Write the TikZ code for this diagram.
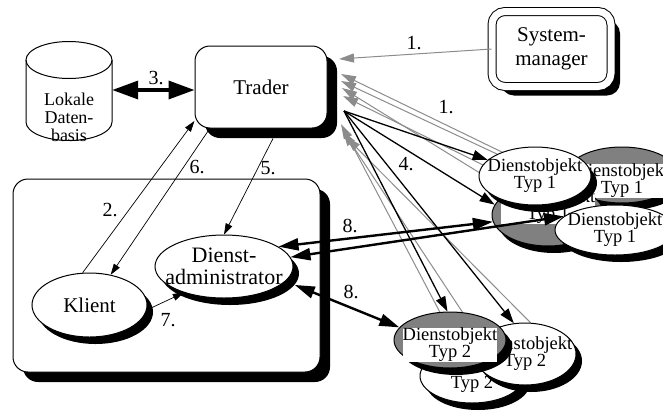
\documentclass[tikz,border=0pt]{standalone}
\usepackage{fontspec}
\setmainfont{Liberation Serif}
\usetikzlibrary{shapes.geometric,shadows,arrows.meta}

\pgfdeclarelayer{background}
\pgfsetlayers{background,main}

\tikzset{
    bigtext/.style={font=\fontsize{21}{24}\selectfont, align=center, inner sep=0pt},
    smalltext/.style={font=\fontsize{18.5}{17}\selectfont, align=center, inner sep=0pt},
    objlabel/.style={smalltext, fill=white},
    numtext/.style={font=\fontsize{20}{22}\selectfont, inner sep=0pt},
    boxshadow/.style={drop shadow={shadow xshift=10pt, shadow yshift=-10pt, fill=black, opacity=1}},
    ellshadow/.style={drop shadow={shadow xshift=6pt, shadow yshift=-7pt, fill=black, opacity=1}},
    obj/.style={ellipse, draw, line width=1pt, fill=white, inner sep=0pt, ellshadow},
    objgray/.style={obj, fill=black!50},
    thinarrow/.style={-{Triangle[length=11pt, width=7pt]}, line width=0.7pt},
    callarrow/.style={-{Triangle[length=15pt, width=10pt]}, line width=1.3pt},
    exportarrow/.style={-{Triangle[length=15pt, width=9pt]}, line width=1pt, color=black!45},
    bindarrow/.style={{Triangle[length=20pt, width=12pt]}-{Triangle[length=20pt, width=12pt]}, line width=2.4pt},
    dbarrow/.style={{Triangle[length=26pt, width=18pt]}-{Triangle[length=26pt, width=18pt]}, line width=3.5pt}
}

\begin{document}
\begin{tikzpicture}[x=1pt, y=-1pt]

    % Fix the page to the size of the drawing
    \useasboundingbox (0,0) rectangle (663,410);

    % Host box holding client and service administrator
    \node[draw, line width=1pt, fill=white, rounded corners=15pt, minimum width=307pt, minimum height=193pt, boxshadow] (host) at (166.5,275.5) {};

    % Trader and system manager
    \node[draw, line width=1pt, fill=white, rounded corners=15pt, minimum width=132pt, minimum height=82pt, boxshadow, bigtext] (trader) at (261,87) {Trader};
    \node[draw, line width=1pt, double, double distance=7pt, fill=white, rounded corners=13pt, minimum width=119pt, minimum height=75pt,
          drop shadow={shadow xshift=9pt, shadow yshift=-9pt, fill=black, opacity=1}, bigtext] (sysman) at (551.5,49) {System-\\manager};

    % Local database: a cylinder drawn round an empty node
    \node[minimum width=86pt, minimum height=99pt, inner sep=0pt] (db) at (69,90) {};
    \draw[line width=1pt, fill=white] (26,60) -- (26,122) arc[start angle=180, end angle=0, x radius=43, y radius=18.5] -- (112,60);
    \draw[line width=1pt] (69,60) ellipse[x radius=43, y radius=18.5];
    \node[smalltext, font=\fontsize{18}{18}\selectfont] (dbtext) at (69,117) {Lokale\\Daten-\\basis};

    % Client and service administrator
    \node[obj, minimum width=115pt, minimum height=64pt, label={[bigtext]center:Klient}] (klient) at (89.5,305) {};
    \node[obj, minimum width=138pt, minimum height=63pt, label={[bigtext, font=\fontsize{22}{22}\selectfont]center:{Dienst-\\administrator}}] (admin) at (224,266.5) {};

    % Service objects of type 1, back to front
    \node[objgray, minimum width=112pt, minimum height=56pt, label={[objlabel, yshift=-6pt]center:{Dienstobjekt\\Typ 1}}] (obja) at (622,175) {};
    \node[objgray, minimum width=112pt, minimum height=62pt, label={[objlabel, yshift=8pt]center:{Dienstobjekt\\Typ 1}}] (objb) at (548,215) {};
    \node[obj, minimum width=112pt, minimum height=58pt, label={[smalltext]center:{Dienstobjekt\\Typ 1}}] (objc) at (535,176) {};
    \node[obj, minimum width=120pt, minimum height=50pt, label={[smalltext]center:{Dienstobjekt\\Typ 1}}] (objd) at (615,230) {};

    % Service objects of type 2, back to front
    \node[obj, minimum width=104pt, minimum height=54pt, label={[smalltext]center:{Dienstobjekt\\Typ 2}}] (objg) at (472,376) {};
    \node[obj, minimum width=102pt, minimum height=62pt, label={[smalltext]center:{Dienstobjekt\\Typ 2}}] (objf) at (525,354) {};
    \node[objgray, minimum width=112pt, minimum height=56pt, label={[objlabel, yshift=-5pt]center:{Dienstobjekt\\Typ 2}}] (obje) at (450,340) {};

    % Points beside the Trader where the fan of arrows meets it
    \coordinate (t0) at (339,59);
    \coordinate (t1) at (341,74);
    \coordinate (t2) at (341,81);
    \coordinate (t3) at (342,88);
    \coordinate (t4) at (343,96);
    \coordinate (tb) at (344,111);
    \coordinate (t5) at (341,124);
    \coordinate (t6) at (343,131);
    \coordinate (t7) at (346,137);

    % 1. exports of the service objects (behind the objects)
    \begin{pgfonlayer}{background}
        \draw[exportarrow] (obja.190) -- (t1);
        \draw[exportarrow] (objc.150) -- (t2);
        \draw[exportarrow] (objb) -- (t3);
        \draw[exportarrow] (objd) -- (t4);
        \draw[exportarrow] (obje.110) -- (t5);
        \draw[exportarrow] (objg.60) -- (t6);
        \draw[exportarrow] (objf.80) -- (t7);
    \end{pgfonlayer}
    \draw[exportarrow] (sysman.west) -- (t0);

    % 4. calls from the Trader to the objects
    \draw[callarrow] (tb) -- (objc);
    \draw[callarrow] (tb) -- (objb.169);
    \draw[callarrow] (tb) -- (obje.95);
    \draw[callarrow] (tb) -- (objf.110);

    % 8. bindings of the administrator
    \draw[bindarrow] (admin.20) -- (objb.187);
    \draw[bindarrow] (admin.8) -- (objd.165);
    \draw[bindarrow] ([xshift=14pt]admin.-18) -- (obje.166);

    % 2., 5., 6., 7. and 3.
    \draw[thinarrow] (klient.102) -- (trader.207);
    \draw[thinarrow] (trader.219) -- (klient.55);
    \draw[thinarrow] ([xshift=12pt, yshift=-10pt]trader.south) -- (admin.north);
    \draw[thinarrow] (klient.-5) -- (admin.213);
    \draw[dbarrow] (db.east) -- (trader.west |- db.east);

    % Step numbers
    \node[numtext] (n1a) at (414,43) {1.};
    \node[numtext] (n1b) at (446,107) {1.};
    \node[numtext] (n2) at (110,210) {2.};
    \node[numtext] (n3) at (156,78) {3.};
    \node[numtext] (n4) at (406,164) {4.};
    \node[numtext] (n5) at (268,168) {5.};
    \node[numtext] (n6) at (197,167) {6.};
    \node[numtext] (n7) at (168,320) {7.};
    \node[numtext] (n8a) at (350,226) {8.};
    \node[numtext] (n8b) at (351,292) {8.};

\end{tikzpicture}
\end{document}
